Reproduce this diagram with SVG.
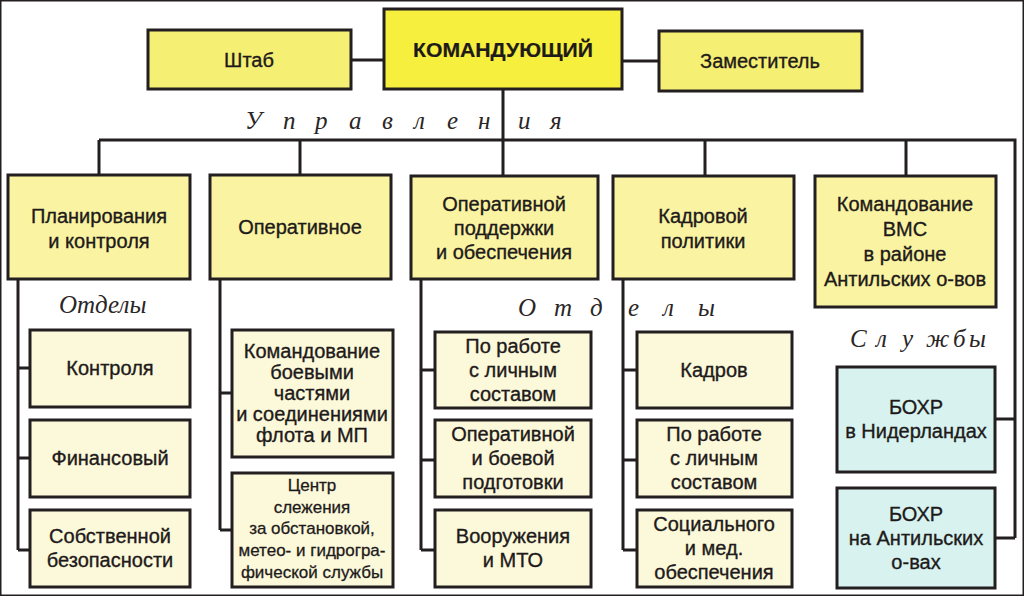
<svg xmlns="http://www.w3.org/2000/svg" width="1024" height="596" viewBox="0 0 1024 596">
<style>
rect{stroke:#231f20;stroke-width:3}
.cmd{fill:#f7ef3e}
.side{fill:#f5ef74}
.mgmt{fill:#faf4a2}
.dept{fill:#fcf9da}
.svc{fill:#d7f2ef}
text{font-family:"Liberation Sans",Arial,sans-serif;font-size:20px;fill:#1e1a1a;stroke:#1e1a1a;stroke-width:0.35;text-anchor:middle}
.b{font-weight:bold;font-size:21px;stroke-width:0.2}
.s{font-size:17px;stroke-width:0.3}
.it{font-family:"Liberation Serif","Times New Roman",serif;font-style:italic;font-size:25px;text-anchor:start;fill:#2a2626;stroke:none}
#connectors path{fill:none;stroke:#231f20;stroke-width:3}
</style>
<rect width="1024" height="596" fill="#ffffff" stroke="none"/>
<g id="connectors">
<path d="M351 60H384M622 61H659"/>
<path d="M503 89V176M99 140H1015V538M99 140V175M300 140V175M705 140V176M906 140V176"/>
<path d="M18 279V550M18 368H30M18 458H30M18 550H30"/>
<path d="M220 279V530M220 393H232M220 530H232"/>
<path d="M421 279V550M421 370H435M421 460H435M421 550H435"/>
<path d="M623 279V550M623 370H637M623 460H637M623 550H637"/>
<path d="M996 419H1015M996 538H1015"/>
</g>
<g id="shtab"><rect class="side" x="148" y="30" width="203" height="59"/><text x="249" y="67">Штаб</text></g>
<g id="komanduyushchiy"><rect class="cmd" x="384" y="9" width="238" height="80"/><text class="b" x="503" y="57" textLength="180" lengthAdjust="spacingAndGlyphs">КОМАНДУЮЩИЙ</text></g>
<g id="zamestitel"><rect class="side" x="659" y="31" width="203" height="60"/><text x="760" y="68">Заместитель</text></g>
<text class="it" id="lbl-upravleniya" x="245 283 315 349 382 414 447 478 518 550" y="129">Управления</text>
<g id="planirovaniya"><rect class="mgmt" x="8" y="175" width="182" height="104"/><text x="99" y="223">Планирования</text><text x="99" y="248">и контроля</text></g>
<g id="operativnoe"><rect class="mgmt" x="210" y="175" width="181" height="104"/><text x="300" y="234">Оперативное</text></g>
<g id="oper-podderzhki"><rect class="mgmt" x="411" y="176" width="187" height="103"/><text x="504" y="211">Оперативной</text><text x="504" y="235">поддержки</text><text x="504" y="259">и обеспечения</text></g>
<g id="kadrovoy"><rect class="mgmt" x="613" y="176" width="181" height="103"/><text x="703" y="223">Кадровой</text><text x="703" y="248">политики</text></g>
<g id="komandovanie-vms"><rect class="mgmt" x="815" y="176" width="181" height="131"/><text x="905" y="211">Командование</text><text x="905" y="236">ВМС</text><text x="905" y="261">в районе</text><text x="905" y="286">Антильских о-вов</text></g>
<text class="it" id="lbl-otdely1" x="59" y="313">Отделы</text>
<text class="it" id="lbl-otdely2" x="518 554 590 628 663 698" y="316">Отделы</text>
<text class="it" id="lbl-sluzhby" x="850 876 902 926 953 969" y="347">Службы</text>
<g id="kontrolya"><rect class="dept" x="30" y="330" width="160" height="77"/><text x="110" y="375">Контроля</text></g>
<g id="finansovyy"><rect class="dept" x="30" y="420" width="160" height="77"/><text x="110" y="465">Финансовый</text></g>
<g id="sobstvennoy"><rect class="dept" x="30" y="510" width="160" height="77"/><text x="110" y="543">Собственной</text><text x="110" y="567">безопасности</text></g>
<g id="komandovanie-boevymi"><rect class="dept" x="232" y="330" width="161" height="127"/><text x="312" y="358">Командование</text><text x="312" y="379">боевыми</text><text x="312" y="400">частями</text><text x="312" y="421">и соединениями</text><text x="312" y="442">флота и МП</text></g>
<g id="tsentr"><rect class="dept" x="232" y="473" width="161" height="114"/><text class="s" x="312" y="491">Центр</text><text class="s" x="312" y="513">слежения</text><text class="s" x="312" y="534">за обстановкой,</text><text class="s" x="312" y="556">метео- и гидрогра-</text><text class="s" x="312" y="578">фической службы</text></g>
<g id="po-rabote-1"><rect class="dept" x="435" y="332" width="156" height="76"/><text x="513" y="353">По работе</text><text x="513" y="377">с личным</text><text x="513" y="401">составом</text></g>
<g id="oper-boevoy"><rect class="dept" x="435" y="420" width="156" height="77"/><text x="513" y="441">Оперативной</text><text x="513" y="465">и боевой</text><text x="513" y="489">подготовки</text></g>
<g id="vooruzheniya"><rect class="dept" x="435" y="510" width="156" height="77"/><text x="513" y="543">Вооружения</text><text x="513" y="567">и МТО</text></g>
<g id="kadrov"><rect class="dept" x="637" y="332" width="155" height="76"/><text x="714" y="377">Кадров</text></g>
<g id="po-rabote-2"><rect class="dept" x="637" y="420" width="155" height="77"/><text x="714" y="441">По работе</text><text x="714" y="465">с личным</text><text x="714" y="489">составом</text></g>
<g id="sotsialnogo"><rect class="dept" x="637" y="510" width="155" height="77"/><text x="714" y="531">Социального</text><text x="714" y="555">и мед.</text><text x="714" y="579">обеспечения</text></g>
<g id="bohr-niderlandy"><rect class="svc" x="837" y="367" width="158" height="105"/><text x="916" y="414">БОХР</text><text x="916" y="438">в Нидерландах</text></g>
<g id="bohr-antily"><rect class="svc" x="837" y="488" width="158" height="100"/><text x="916" y="521">БОХР</text><text x="916" y="545">на Антильских</text><text x="916" y="569">о-вах</text></g>
</svg>
